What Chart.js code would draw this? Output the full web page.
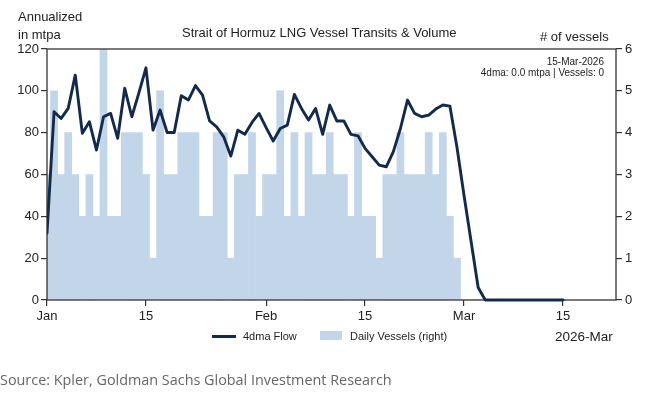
<!DOCTYPE html>
<html><head><meta charset="utf-8">
<script src="https://cdn.jsdelivr.net/npm/chart.js@4"></script>
<style>
html,body{margin:0;padding:0;background:#fff;}
#wrap{position:relative;width:652px;height:394px;overflow:hidden;font-family:'Liberation Sans',Arial,sans-serif;color:#222;}
#c{position:absolute;left:0;top:0;}
.t{position:absolute;white-space:nowrap;line-height:1;}
</style></head><body>
<div id="wrap">
<canvas id="c" width="652" height="394"></canvas>
<div class="t" style="left:18px;top:8px;font-size:13px;line-height:18px;">Annualized<br>in mtpa</div>
<div class="t" style="left:182px;top:26px;font-size:13px;">Strait of Hormuz LNG Vessel Transits &amp; Volume</div>
<div class="t" style="left:540px;top:30px;font-size:13px;"># of vessels</div>
<div class="t" style="right:48px;top:56px;font-size:10px;line-height:11px;text-align:right;">15-Mar-2026<br>4dma: 0.0 mtpa | Vessels: 0</div>
<div class="t" style="left:212px;top:335px;width:24px;height:3px;background:#142a4b;"></div>
<div class="t" style="left:243px;top:331px;font-size:11px;">4dma Flow</div>
<div class="t" style="left:320px;top:331px;width:22px;height:9px;background:#c3d5e9;"></div>
<div class="t" style="left:350px;top:331px;font-size:11px;">Daily Vessels (right)</div>
<div class="t" style="left:555px;top:330px;font-size:13.5px;">2026-Mar</div>
<div class="t" style="left:0px;top:373px;font-size:14.4px;font-family:'Open Sans',sans-serif;color:#666;">Source: Kpler, Goldman Sachs Global Investment Research</div>
</div>
<script>
// 4-day moving average LNG flow, annualized mtpa (Jan 1 .. Mar 15, 2026)
const flow = [
  32, 90, 86.8, 91.6, 107.5, 79.7, 85.2, 71.7, 87.6, 89.2,
  77.3, 101.2, 87.6, 99, 111, 81.2, 90.8, 80.1, 80.1, 97.7,
  95.6, 102.5, 98, 85.6, 82.8, 78, 68.8, 81.2, 79.2, 84.9,
  89.2, 82.4, 76, 82, 83.6, 98.3, 91.6, 86, 91.6, 79.2,
  93.2, 85.6, 85.6, 79.2, 78.5, 72.5, 68.5, 64.5, 63.7, 70.9,
  82, 95.6, 89.2, 87.6, 88.4, 91.3, 93.2, 92.7, 73, 50,
  28, 6, 0, 0, 0, 0, 0, 0, 0, 0,
  0, 0, 0, 0
];
// Daily vessel transits (right axis)
const vessels = [
  3, 5, 3, 4, 3, 2, 3, 2, 6, 2,
  2, 4, 4, 4, 3, 1, 5, 3, 3, 4,
  4, 4, 2, 2, 4, 4, 1, 3, 3, 4,
  2, 3, 3, 5, 2, 4, 2, 4, 3, 3,
  4, 3, 3, 2, 4, 2, 2, 1, 3, 3,
  4, 3, 3, 3, 4, 3, 4, 2, 1, 0,
  0, 0, 0, 0, 0, 0, 0, 0, 0, 0,
  0, 0, 0, 0
];
// categories: one per day starting 2026-01-01
const dates = flow.map((_, i) => new Date(Date.UTC(2026, 0, 1 + i)).toISOString().slice(0, 10));
const tickDates = ['2026-01-01', '2026-01-15', '2026-02-01', '2026-02-15', '2026-03-01', '2026-03-15'];
const tickLabels = ['Jan', '15', 'Feb', '15', 'Mar', '15'];

const NAVY = '#142a4b', BAR = '#c3d5e9', AX = '#333333';

const boxPlugin = {
  id: 'box',
  afterDatasetDraw(chart, args) {
    if (args.meta.type !== 'bar') return;
    const { ctx, chartArea: a } = chart;
    ctx.save();
    ctx.strokeStyle = AX;
    ctx.lineWidth = 1.3;
    ctx.strokeRect(a.left, a.top, a.right - a.left, a.bottom - a.top);
    ctx.restore();
  }
};

Chart.defaults.font.family = "'Liberation Sans', Arial, sans-serif";
Chart.defaults.color = '#222';

new Chart(document.getElementById('c'), {
  type: 'bar',
  data: {
    datasets: [
      {
        type: 'line', label: '4dma Flow', yAxisID: 'y', xAxisID: 'x',
        data: flow.map((v, i) => ({ x: i, y: v })),
        borderColor: NAVY, borderWidth: 2.9, pointRadius: 0, tension: 0, fill: false,
        borderJoinStyle: 'round', borderCapStyle: 'round',
        order: 0, clip: { left: 0, top: false, right: false, bottom: false }
      },
      {
        type: 'bar', label: 'Daily Vessels (right)', yAxisID: 'y1', xAxisID: 'x',
        data: vessels.map((v, i) => ({ x: i, y: v })),
        backgroundColor: BAR, borderWidth: 0, barPercentage: 1, categoryPercentage: 1,
        order: 1, clip: 0
      }
    ]
  },
  options: {
    responsive: false, animation: false, devicePixelRatio: 1,
    layout: { padding: { top: 49, left: 0, right: 0, bottom: 0 } },
    plugins: { legend: { display: false }, tooltip: { enabled: false } },
    scales: {
      x: {
        type: 'linear', min: 0, max: 80.5, offset: false,
        afterBuildTicks(s) { s.ticks = tickDates.map(d => ({ value: dates.indexOf(d) })); },
        ticks: { callback: (v, i) => tickLabels[i], autoSkip: false, maxRotation: 0, padding: 3, font: { size: 13 }, color: '#222' },
        grid: { offset: false, drawOnChartArea: false, drawTicks: true, tickLength: 6, color: AX, lineWidth: 1.2 },
        border: { display: false },
        afterFit(s) { s.height = 94; }
      },
      y: {
        position: 'left', min: 0, max: 120,
        ticks: { stepSize: 20, padding: 2, font: { size: 13 }, color: '#222' },
        grid: { drawOnChartArea: false, tickLength: 6, color: AX, lineWidth: 1.2 },
        border: { display: false },
        afterFit(s) { s.width = 47; }
      },
      y1: {
        position: 'right', min: 0, max: 6,
        ticks: { stepSize: 1, padding: 3, font: { size: 13 }, color: '#222' },
        grid: { drawOnChartArea: false, tickLength: 6, color: AX, lineWidth: 1.2 },
        border: { display: false },
        afterFit(s) { s.width = 36; }
      }
    }
  },
  plugins: [boxPlugin]
});
</script>
</body></html>
